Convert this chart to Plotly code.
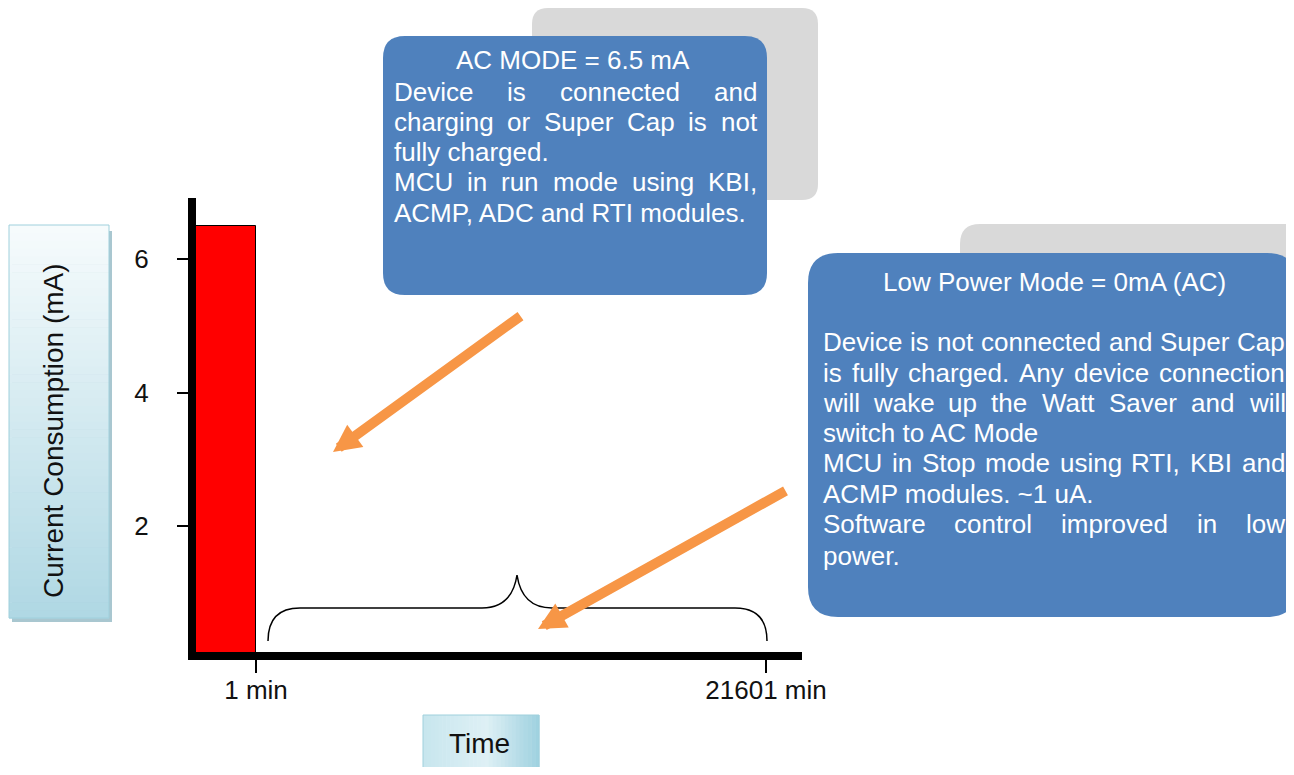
import plotly.graph_objects as go

# Screen size of the reference and the 8px page margin of the html body
SCREEN_W, SCREEN_H = 1294, 775
PAGE_PAD = 8
W, H = SCREEN_W - 2 * PAGE_PAD, SCREEN_H - 2 * PAGE_PAD

# ---------------- data ----------------
segment_names = ["AC mode", "Low power mode"]
segment_start = [0, 1]          # schematic time-axis units
segment_end = [1, 9.5]
current_ma = [6.5, 0.0]
time_tick_pos = [1, 9.5]
time_tick_labels = ["1 min", "21601 min"]
current_ticks = [2, 4, 6]

ac_title = "AC MODE = 6.5 mA"
ac_lines = ["Device is connected and",
            "charging or Super Cap is not",
            "fully charged.",
            "MCU in run mode using KBI,",
            "ACMP, ADC and RTI modules."]
ac_justify = [True, True, False, True, False]

lp_title = "Low Power Mode = 0mA (AC)"
lp_lines = ["Device is not connected and Super Cap",
            "is fully charged. Any device connection",
            "will wake up the Watt Saver and will",
            "switch to AC Mode",
            "MCU in Stop mode using RTI, KBI and",
            "ACMP modules. ~1 uA.",
            "Software control improved in low",
            "power."]
lp_justify = [True, True, True, False, True, False, True, False]

y_title = "Current Consumption (mA)"
x_title = "Time"

# ---------------- helpers ----------------
FONT = "Liberation Sans"
ARIAL = {' ': 278, ',': 278, '.': 278, '(': 333, ')': 333, '~': 584, '=': 584,
         'A': 667, 'B': 667, 'C': 722, 'D': 722, 'E': 667, 'F': 611, 'G': 778, 'H': 722,
         'I': 278, 'J': 500, 'K': 667, 'L': 556, 'M': 833, 'N': 722, 'O': 778, 'P': 667,
         'Q': 778, 'R': 722, 'S': 667, 'T': 611, 'U': 722, 'V': 667, 'W': 944, 'X': 667,
         'Y': 667, 'Z': 611,
         'a': 556, 'b': 556, 'c': 500, 'd': 556, 'e': 556, 'f': 278, 'g': 556, 'h': 556,
         'i': 222, 'j': 222, 'k': 500, 'l': 222, 'm': 833, 'n': 556, 'o': 556, 'p': 556,
         'q': 556, 'r': 333, 's': 500, 't': 278, 'u': 556, 'v': 500, 'w': 722, 'x': 500,
         'y': 500, 'z': 500}


def px(x):
    return (x - PAGE_PAD) / W


def py(y):
    return 1 - (y - PAGE_PAD) / H


def text_w(s, size):
    return sum(ARIAL.get(c, 556) for c in s) / 1000.0 * size


def pix_path(cmds):
    s = ""
    for cmd, ps in cmds:
        s += cmd + " ".join(f"{px(a):.5f},{py(b):.5f}" for a, b in ps) + " "
    return s


def rrect_path(x0, y0, x1, y1, r):
    return pix_path([("M", [(x0 + r, y0)]), ("L", [(x1 - r, y0)]), ("Q", [(x1, y0), (x1, y0 + r)]),
                     ("L", [(x1, y1 - r)]), ("Q", [(x1, y1), (x1 - r, y1)]), ("L", [(x0 + r, y1)]),
                     ("Q", [(x0, y1), (x0, y1 - r)]), ("L", [(x0, y0 + r)]),
                     ("Q", [(x0, y0), (x0 + r, y0)])]) + "Z"


def lerp(c0, c1, t):
    return "rgb(%d,%d,%d)" % tuple(round(a + (b - a) * t) for a, b in zip(c0, c1))


shapes = []
annotations = []

# ---------------- figure / bars ----------------
fig = go.Figure()
fig.add_trace(go.Bar(
    x=[(s + e) / 2 for s, e in zip(segment_start, segment_end)],
    y=current_ma,
    width=[e - s for s, e in zip(segment_start, segment_end)],
    name="Current",
    text=segment_names, textposition="none", hoverinfo="text+y",
    marker=dict(color="#ff0000", line=dict(color="black", width=[1, 0])),
))

# ---------------- decorations ----------------
# y-axis title box (vertical gradient)
bx0, by0, bx1, by1 = 9, 225, 109, 618
shapes.append(dict(type="rect", xref="paper", yref="paper", x0=px(bx0 + 3), x1=px(bx1 + 3),
                   y0=py(by0 + 6), y1=py(by1 + 4), fillcolor="#a9c7d0", line_width=0, layer="below"))
n = 50
for i in range(n):
    ya = by0 + (by1 - by0) * i / n
    yb = by0 + (by1 - by0) * (i + 1) / n
    shapes.append(dict(type="rect", xref="paper", yref="paper", x0=px(bx0), x1=px(bx1),
                       y0=py(ya), y1=py(yb + 0.5),
                       fillcolor=lerp((246, 251, 252), (176, 216, 228), i / (n - 1)),
                       line_width=0, layer="below"))
shapes.append(dict(type="rect", xref="paper", yref="paper", x0=px(bx0), x1=px(bx1),
                   y0=py(by0), y1=py(by1), line=dict(color="#9fd0dc", width=1), layer="below"))

# x-axis title box (diagonal-ish gradient)
tx0, ty0, tx1, ty1 = 423, 715, 539, 774
n = 30
for i in range(n):
    xa = tx0 + (tx1 - tx0) * i / n
    xb = tx0 + (tx1 - tx0) * (i + 1) / n
    t = i / (n - 1)
    col = lerp((200, 230, 238), (222, 240, 245), t / 0.55) if t < 0.55 else \
        lerp((222, 240, 245), (160, 210, 224), (t - 0.55) / 0.45)
    shapes.append(dict(type="rect", xref="paper", yref="paper", x0=px(xa), x1=px(xb + 0.5),
                       y0=py(ty0), y1=py(ty1), fillcolor=col, line_width=0, layer="below"))
shapes.append(dict(type="rect", xref="paper", yref="paper", x0=px(tx0), x1=px(tx1),
                   y0=py(ty0), y1=py(ty1), line=dict(color="#9fd0dc", width=1), layer="below"))

# callout shadows and boxes
shapes.append(dict(type="path", xref="paper", yref="paper", path=rrect_path(532, 8, 818, 200, 16),
                   fillcolor="#d9d9d9", line_width=0, layer="below"))
shapes.append(dict(type="path", xref="paper", yref="paper", path=rrect_path(960, 224, 1340, 420, 20),
                   fillcolor="#d9d9d9", line_width=0, layer="below"))
shapes.append(dict(type="path", xref="paper", yref="paper", path=rrect_path(383, 36, 767, 295, 22),
                   fillcolor="#4f81bd", line_width=0, layer="above"))
shapes.append(dict(type="path", xref="paper", yref="paper", path=rrect_path(808, 253, 1297, 617, 30),
                   fillcolor="#4f81bd", line_width=0, layer="above"))

# curly brace over the low power period
brace = pix_path([("M", [(268, 641)]), ("Q", [(268, 608), (300, 608)]), ("L", [(482, 608)]),
                  ("Q", [(512, 608), (517, 575)]), ("Q", [(522, 608), (552, 608)]),
                  ("L", [(735, 608)]), ("Q", [(767, 608), (767, 641)])])
shapes.append(dict(type="path", xref="paper", yref="paper", path=brace,
                   line=dict(color="black", width=1.5), layer="above"))

# ---------------- texts ----------------
TS = 26


def add_text(text, x, y, anchor="left", size=TS, color="white", angle=0):
    annotations.append(dict(text=text, x=px(x), y=py(y), xref="paper", yref="paper",
                            xanchor=anchor, yanchor="middle", showarrow=False, borderpad=0,
                            textangle=angle, font=dict(family=FONT, size=size, color=color)))


def add_block(title, tx, ty, lines, justify, ys, L, R):
    add_text(title, tx, ty, anchor="center")
    for line, j, y in zip(lines, justify, ys):
        words = line.split(" ")
        if j and len(words) > 1:
            ws = [text_w(w, TS) for w in words]
            gap = (R - L - sum(ws)) / (len(words) - 1)
            x = L
            for w, wd in zip(words, ws):
                add_text(w, x, y)
                x += wd + gap
        else:
            add_text(line, L, y)


add_block(ac_title, 573, 60, ac_lines, ac_justify, [92, 122, 152, 182, 213], 393, 756)
add_block(lp_title, 1054, 282, lp_lines, lp_justify, [342, 373, 403, 433, 463, 494, 524, 556], 822, 1284)

add_text(y_title, 53, 431, anchor="center", size=28, color="#111111", angle=-90)
add_text(x_title, 479, 743, anchor="center", size=28, color="#111111")

# orange arrows
for tip, tail in [((333, 452), (522, 315)), ((538, 629), (787, 490))]:
    annotations.append(dict(text="", x=px(tip[0]), y=py(tip[1]), xref="paper", yref="paper",
                            ax=tail[0] - tip[0], ay=tail[1] - tip[1], showarrow=True,
                            arrowhead=2, arrowsize=0.55, arrowwidth=10, arrowcolor="#f79646",
                            standoff=0))

# ---------------- layout ----------------
# y scale: value 0 sits at screen y 659.5 (under the thick axis line), 66.75 px per mA
Y_ZERO_PX, Y_PX_PER_UNIT = 659.5, 66.75
y_lo = (Y_ZERO_PX - 652) / Y_PX_PER_UNIT
y_hi = (Y_ZERO_PX - 198) / Y_PX_PER_UNIT

tickfont = dict(family=FONT, size=26, color="#111111")
fig.update_layout(
    width=W, height=H, margin=dict(l=0, r=0, t=0, b=0, autoexpand=False),
    paper_bgcolor="white", plot_bgcolor="rgba(0,0,0,0)", showlegend=False,
    bargap=0,
    xaxis=dict(domain=[px(196), px(802)], range=[0, 10.1], tickmode="array",
               tickvals=time_tick_pos, ticktext=time_tick_labels, automargin=False,
               showline=True, linewidth=8, linecolor="black", ticks="outside",
               ticklen=13, tickwidth=1.5, tickcolor="black", showgrid=False, zeroline=False,
               tickfont=tickfont, ticklabelstandoff=-5),
    yaxis=dict(domain=[py(652), py(198)], range=[y_lo, y_hi], tickmode="array",
               tickvals=current_ticks, showline=True, linewidth=8, linecolor="black",
               automargin=False,
               ticks="outside", ticklen=11, tickwidth=1.5, tickcolor="black", showgrid=False,
               zeroline=False, tickfont=tickfont, ticklabelstandoff=23),
    shapes=shapes, annotations=annotations,
)

fig.write_html("out.html")
